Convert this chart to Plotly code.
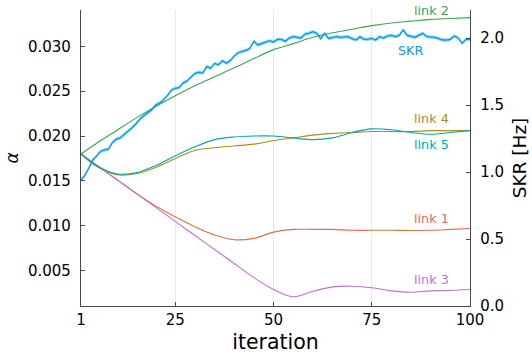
import plotly.graph_objects as go

# ---------------- data ----------------
iterations = list(range(1, 101))

skr_hz = [
    0.94, 0.975, 1.03, 1.09, 1.12, 1.155, 1.165, 1.17, 1.22, 1.245,
    1.255, 1.28, 1.30, 1.33, 1.36, 1.395, 1.42, 1.445, 1.465, 1.50,
    1.515, 1.54, 1.57, 1.61, 1.625, 1.63, 1.665, 1.68, 1.71, 1.736,
    1.744, 1.738, 1.786, 1.774, 1.81, 1.80, 1.83, 1.811, 1.831, 1.865,
    1.89, 1.898, 1.908, 1.923, 1.975, 1.948, 1.96, 1.973, 1.98, 1.97,
    1.99, 1.99, 1.975, 2.00, 2.01, 2.005, 2.00, 2.03, 2.035, 2.047,
    2.035, 1.995, 2.035, 1.997, 2.005, 2.01, 2.005, 2.005, 2.01, 1.995,
    1.985, 2.01, 1.99, 1.99, 1.997, 1.985, 2.01, 2.00, 2.015, 2.02,
    2.01, 2.02, 2.06, 2.02, 2.01, 2.005, 2.02, 2.035, 2.01, 2.01,
    2.005, 1.995, 1.985, 1.985, 1.99, 2.015, 2.00, 1.96, 1.99, 1.99,
]
skr_band = 0.013

link_iter = [1, 5, 10, 15, 20, 25, 30, 35, 40, 45, 50,
             55, 60, 65, 70, 75, 80, 85, 90, 95, 100]

link1 = [0.0180, 0.01675, 0.0152, 0.01362, 0.0122, 0.0110, 0.0099, 0.00897, 0.00845, 0.0086, 0.0093,
         0.0096, 0.0096, 0.0096, 0.0095, 0.0095, 0.0095, 0.00948, 0.0095, 0.0096, 0.0097]
link2 = [0.0180, 0.0192, 0.0206, 0.0220, 0.0233, 0.0245, 0.0256, 0.0266, 0.0276, 0.02864, 0.02963,
         0.0303, 0.0310, 0.0315, 0.0319, 0.0323, 0.0326, 0.0328, 0.0330, 0.0331, 0.0332]
link3 = [0.0180, 0.01675, 0.01518, 0.01362, 0.01205, 0.01049, 0.00892, 0.00736, 0.0058, 0.00423, 0.0029,
         0.0021, 0.0027, 0.0032, 0.00327, 0.0031, 0.00275, 0.0026, 0.00275, 0.0028, 0.0029]
link4 = [0.0180, 0.0166, 0.0157, 0.0158, 0.0165, 0.0175, 0.0184, 0.0187, 0.0189, 0.0191, 0.0195,
         0.0198, 0.0201, 0.0203, 0.0204, 0.0205, 0.0205, 0.0205, 0.0206, 0.0206, 0.0206]
link5 = [0.0180, 0.0167, 0.0158, 0.0159, 0.0167, 0.0178, 0.0188, 0.0196, 0.0199, 0.0200, 0.0200,
         0.0198, 0.0196, 0.0198, 0.0204, 0.0208, 0.0207, 0.0204, 0.0202, 0.0204, 0.0206]

link_names = ["link 1", "link 2", "link 3", "link 4", "link 5"]
link_colors = ["#E26F46", "#3DA44D", "#C271D2", "#AC8E18", "#00A9AD"]
skr_color = "#009AF9"

# label positions (data coordinates)
label_x = 90.1
label_y = {"link 1": 0.01079, "link 2": 0.03398, "link 3": 0.00401,
           "link 4": 0.02193, "link 5": 0.01903}
skr_label_x = 85.1
skr_label_y = 0.02949

x_ticks = [1, 25, 50, 75, 100]
y_ticks = [0.005, 0.010, 0.015, 0.020, 0.025, 0.030]
y2_ticks = [0.0, 0.5, 1.0, 1.5, 2.0]

# ---------------- figure ----------------
FONT = "DejaVu Sans"
AXC = "#4a4a4a"

fig = go.Figure()

for name, vals, col in zip(link_names, [link1, link2, link3, link4, link5], link_colors):
    fig.add_trace(go.Scatter(x=link_iter, y=vals, mode="lines", name=name,
                             line=dict(color=col, width=1.1, shape="spline", smoothing=1.0),
                             yaxis="y", showlegend=False))

upper = [v + skr_band for v in skr_hz]
lower = [v - skr_band for v in skr_hz]
fig.add_trace(go.Scatter(x=iterations, y=upper, mode="lines", line=dict(width=0, color=skr_color),
                         yaxis="y2", showlegend=False, hoverinfo="skip"))
fig.add_trace(go.Scatter(x=iterations, y=lower, mode="lines", line=dict(width=0, color=skr_color),
                         fill="tonexty", fillcolor="rgba(0,154,249,0.4)",
                         yaxis="y2", showlegend=False, hoverinfo="skip"))
fig.add_trace(go.Scatter(x=iterations, y=skr_hz, mode="lines", name="SKR",
                         line=dict(color=skr_color, width=1.3), yaxis="y2", showlegend=False))

for name, col in zip(link_names, link_colors):
    fig.add_annotation(x=label_x, y=label_y[name], xref="x", yref="y", text=name,
                       showarrow=False, font=dict(family=FONT, size=12.8, color=col),
                       xanchor="center", yanchor="middle")
fig.add_annotation(x=skr_label_x, y=skr_label_y, xref="x", yref="y", text="SKR",
                   showarrow=False, font=dict(family=FONT, size=12.8, color=skr_color),
                   xanchor="center", yanchor="middle")

fig.update_layout(
    width=532, height=354,
    margin=dict(l=81, r=62, t=10, b=48, autoexpand=False),
    paper_bgcolor="white", plot_bgcolor="white",
    font=dict(family=FONT, color="black"),
    xaxis=dict(range=[1, 100], tickvals=x_ticks, ticktext=[str(v) for v in x_ticks],
               showgrid=True, gridcolor="#e8e8e8", gridwidth=1,
               showline=True, linecolor=AXC, linewidth=1.3,
               ticks="inside", ticklen=4, tickcolor=AXC, automargin=False,
               tickfont=dict(family=FONT, size=15), zeroline=False,
               title=dict(text="iteration", font=dict(family=FONT, size=20.5), standoff=6)),
    yaxis=dict(range=[0.001067, 0.034044], tickvals=y_ticks,
               ticktext=[f"{v:.3f}" for v in y_ticks],
               showgrid=False, showline=True, linecolor=AXC, linewidth=1.3,
               ticks="inside", ticklen=4, tickcolor=AXC, zeroline=False, automargin=False,
               tickfont=dict(family=FONT, size=15), ticklabelstandoff=6,
               title=dict(text="<i>α</i>", font=dict(family=FONT, size=17), standoff=4)),
    yaxis2=dict(range=[0, 2.209], tickvals=y2_ticks, ticktext=[f"{v:.1f}" for v in y2_ticks],
                overlaying="y", side="right", anchor="x",
                showgrid=False, showline=True, linecolor=AXC, linewidth=1.3,
                ticks="inside", ticklen=4, tickcolor=AXC, zeroline=False, automargin=False,
                tickfont=dict(family=FONT, size=15), ticklabelstandoff=6,
                title=dict(text="SKR [Hz]", font=dict(family=FONT, size=18.5), standoff=10)),
)

fig.write_html("out.html", config={"displayModeBar": False},
               post_script="document.body.style.margin='0';document.body.style.overflow='hidden';")
